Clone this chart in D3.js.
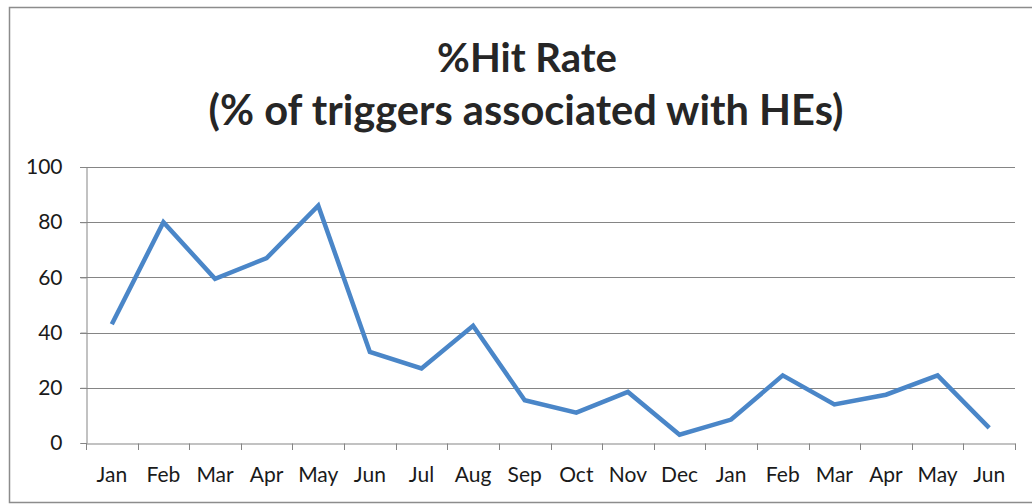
<!DOCTYPE html>
<html>
<head>
<meta charset="utf-8">
<script src="https://cdn.jsdelivr.net/npm/d3@7"></script>
<style>
  html, body { margin: 0; padding: 0; background: #ffffff; }
  svg { display: block; }
</style>
</head>
<body>
<svg id="chart" width="1032" height="504"></svg>
<script>
const categories = ["Jan","Feb","Mar","Apr","May","Jun","Jul","Aug","Sep","Oct","Nov","Dec","Jan","Feb","Mar","Apr","May","Jun"];
const hitRate = [43, 80, 59.5, 67, 86, 33, 27, 42.5, 15.5, 11, 18.5, 3, 8.5, 24.5, 14, 17.5, 24.5, 5.5];
const yTicks = [0, 20, 40, 60, 80, 100];
const titleLines = ["%Hit Rate", "(% of triggers associated with HEs)"];

const svg = d3.select("#chart");
const W = 1032, H = 504;
const m = { left: 86, right: 17, top: 167, bottom: 61 };

// frame
svg.append("path")
  .attr("d", `M${W},7.5 H9.5 V502.5 H${W}`)
  .attr("fill", "none").attr("stroke", "#8c8c8c").attr("stroke-width", 1.5);

const x = d3.scaleBand().domain(d3.range(categories.length))
  .range([m.left, W - m.right]).paddingInner(0).paddingOuter(0);
const y = d3.scaleLinear().domain([0, 100]).range([H - m.bottom, m.top]);

// gridlines
svg.append("g").selectAll("line").data(yTicks.filter(d => d > 0)).join("line")
  .attr("x1", m.left - 6).attr("x2", W - m.right)
  .attr("y1", d => Math.round(y(d)) + 0.5).attr("y2", d => Math.round(y(d)) + 0.5)
  .attr("stroke", "#858585").attr("stroke-width", 1);

// y axis
const yAxis = svg.append("g").attr("transform", `translate(${m.left + 0.5},0)`)
  .call(d3.axisLeft(y).tickValues(yTicks).tickSize(6).tickPadding(18));
yAxis.select(".domain").attr("stroke", "#858585");
yAxis.selectAll(".tick line").attr("stroke", "#858585");
yAxis.selectAll(".tick text").attr("font-family", "Lato, 'Open Sans', sans-serif")
  .attr("font-size", 21).attr("fill", "#1a1a1a");

// x axis
const xAxis = svg.append("g").attr("transform", `translate(0,${Math.round(y(0)) + 0.5})`)
  .call(d3.axisBottom(x).tickFormat(i => categories[i]).tickSize(0).tickPadding(24));
xAxis.select(".domain").attr("stroke", "#858585");
xAxis.selectAll(".tick line").remove();
xAxis.selectAll(".tick text").attr("font-family", "Lato, 'Open Sans', sans-serif")
  .attr("font-size", 21).attr("fill", "#1a1a1a");
// category boundary ticks
const bounds = d3.range(categories.length + 1).map(i => m.left + i * x.bandwidth());
svg.append("g").selectAll("line").data(bounds).join("line")
  .attr("x1", d => Math.round(d) + 0.5).attr("x2", d => Math.round(d) + 0.5)
  .attr("y1", Math.round(y(0)) + 0.5).attr("y2", Math.round(y(0)) + 7)
  .attr("stroke", "#858585");

// line
const line = d3.line().x((d, i) => x(i) + x.bandwidth() / 2).y(d => y(d));
svg.append("path").datum(hitRate)
  .attr("d", line).attr("fill", "none")
  .attr("stroke", "#4a86c8").attr("stroke-width", 4.5)
  .attr("stroke-linejoin", "miter").attr("stroke-linecap", "butt");

// title
const title = svg.append("g").attr("font-family", "Lato, 'Open Sans', sans-serif")
  .attr("font-weight", "bold").attr("fill", "#262626").attr("text-anchor", "middle");
const t1 = title.append("text").attr("x", 527).attr("y", 72).attr("font-size", 36).text(titleLines[0]);
const t2 = title.append("text").attr("x", 526).attr("y", 125).attr("font-size", 36).text(titleLines[1]);
// fit title widths to the reference
[[t1, 180], [t2, 635]].forEach(([t, w]) => {
  const cw = t.node().getComputedTextLength();
  t.attr("font-size", 36 * w / cw);
});
</script>
</body>
</html>
